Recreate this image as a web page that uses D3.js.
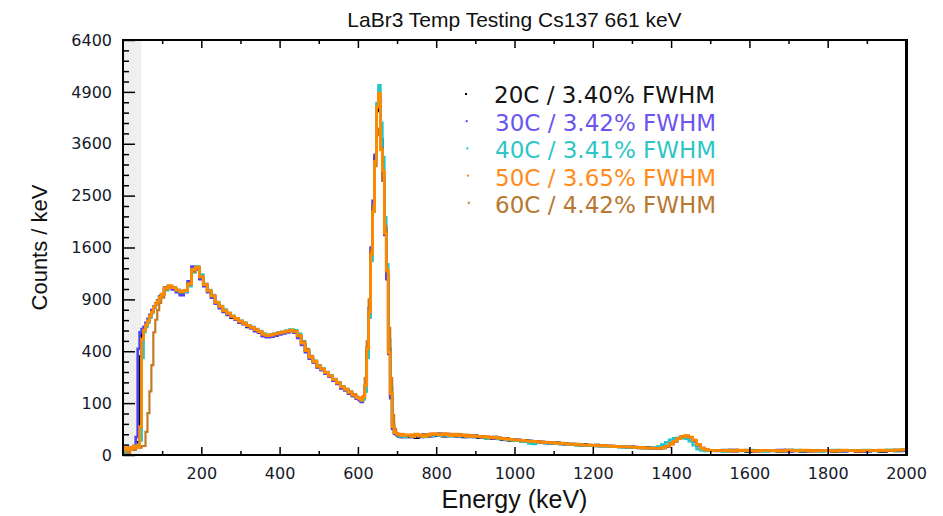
<!DOCTYPE html>
<html>
<head>
<meta charset="utf-8">
<script src="https://cdn.jsdelivr.net/npm/d3@7"></script>
<style>
  html, body { margin: 0; padding: 0; background: #ffffff; }
  svg { display: block; }
</style>
</head>
<body>
<svg id="chart" width="943" height="516"></svg>
<script>
// ---------------- DATA ----------------
const chartTitle = "LaBr3 Temp Testing Cs137 661 keV";
const xAxisTitle = "Energy (keV)";
const yAxisTitle = "Counts / keV";

// energy grid (keV): [start, end, step]
const energySegments = [[0, 100, 5], [110, 600, 10], [605, 720, 5], [730, 1500, 10], [1520, 2000, 20]];

const seriesNames = ["20C / 3.40% FWHM", "30C / 3.42% FWHM", "40C / 3.41% FWHM", "50C / 3.65% FWHM", "60C / 4.42% FWHM"];

const counts20C = [
  0,0,0,1,1,1,2,3,6,360,540,590,630,670,720,770,810,850,890,930,960,
  1040,1055,1030,1005,970,1000,1095,1285,1300,1165,
  1070,990,935,855,815,765,740,700,690,655,
  645,610,605,575,565,530,522,528,540,548,
  560,562,578,562,518,455,400,348,322,288,
  272,248,232,208,192,168,160,143,132,121,
  116,108,120,170,400,740,1550,2300,3300,4400,4740,3700,2900,1900,1200,420,130,28,18,15,13,14,12,13,
  12,14,11,13,15,13,16,14,
  15,13,16,14,13,15,12,13,14,12,
  11,13,11,10,12,10,9,10,8,9,
  8,7,8,7,6,7,6,5.5,6,5,
  5.5,4.5,5,4,4.5,4,3.5,4,3.5,3.2,
  3.6,3,3.3,2.8,3,2.6,2.8,2.4,2.2,2.5,
  2,2.2,1.8,2,1.6,1.8,1.5,1.8,2.5,4.5,
  7,10,12,13,11,7,3.5,1.5,0.9,0.8,
  0.8,0.6,0.9,0.7,0.5,0.8,0.6,0.7,0.5,0.9,0.6,0.5,0.7,0.6,0.8,0.5,0.6,0.7,0.5,0.6,0.8,0.5,0.7,0.6,0.9
];

const counts30C = [
  0,1,0,1,2,1,3,12,420,560,590,610,650,690,730,780,820,850,890,930,960,
  1030,1050,1020,985,950,985,1120,1320,1280,1150,
  1060,985,920,850,800,760,730,705,680,650,
  635,615,595,570,555,525,515,520,530,540,
  550,560,570,555,510,450,392,345,318,285,
  268,245,228,205,188,165,155,140,128,118,
  112,105,118,175,430,800,1600,2400,3350,4500,4800,3600,2800,1800,1150,380,120,25,17,16,14,12,15,13,
  13,12,14,12,14,16,13,15,
  17,14,13,15,16,13,14,12,13,14,
  12,11,12,11,10,11,10,8.5,9,8,
  8.5,7.5,7,7.5,6.5,6,6.5,6,5,5.5,
  5,5,4.2,4.5,4,3.8,4,3.4,3.6,3.5,
  3,3.2,2.8,3,2.6,2.8,2.4,2.6,2.3,2.1,
  2.3,1.9,2,1.7,1.9,1.5,1.7,2,3,5,
  7.5,10.5,12.5,13.5,10.5,6.5,3,1.3,0.8,0.7,
  0.6,0.9,0.5,0.7,0.8,0.5,0.7,0.6,0.9,0.5,0.7,0.6,0.5,0.8,0.6,0.7,0.5,0.8,0.6,0.5,0.7,0.6,0.8,0.9,0.7
];

const counts40C = [
  0,0,1,0,1,2,1,2,4,8,350,560,610,650,700,750,800,840,880,920,950,
  1010,1050,1045,1010,985,990,1060,1240,1320,1210,
  1090,1010,950,870,825,785,750,720,695,670,
  650,625,610,590,570,545,535,540,548,560,
  565,575,585,578,545,480,415,362,330,298,
  278,256,236,214,196,175,162,148,135,124,
  118,112,116,150,350,700,1400,2200,3200,4600,5080,4100,3300,2100,1350,500,170,35,20,16,15,13,14,12,
  14,13,15,14,12,15,14,16,
  14,16,14,13,15,14,13,14,12,13,
  12,12,10,11,11,9.5,10,9,8.5,8,
  7.5,7,6.5,5,4.5,6,6,5.5,5.5,5,
  4.8,4.5,4.6,4,4.2,3.6,3.8,3.5,3.2,3.4,
  3.1,2.9,3,2.6,2.8,2.5,2.3,2.5,2.1,2.2,
  2,1.8,2,1.6,1.8,2,2.6,4,6,8.5,
  10.5,11,11,10,7,3.5,1.3,0.8,0.6,0.7,
  0.7,0.5,0.8,0.6,0.9,0.7,0.5,0.8,0.6,0.7,0.9,0.6,0.8,0.5,0.7,0.9,0.6,0.8,0.7,0.9,0.6,0.8,1.0,0.9,1.2
];

const counts50C = [
  1,2,1,2,1,2,3,2,3,30,500,580,630,670,720,760,810,850,880,920,960,
  1035,1065,1040,1010,990,1005,1090,1280,1310,1180,
  1080,1000,940,865,820,775,745,715,690,665,
  645,622,605,585,565,540,530,535,545,555,
  562,570,580,568,528,465,405,355,325,292,
  274,252,233,212,193,172,160,146,133,122,
  118,112,125,180,420,760,1500,2200,3200,4500,4860,3460,3000,1830,1270,390,140,30,19,17,15,16,14,15,
  15,13,16,14,13,15,17,16,
  15,17,15,14,16,14,15,13,14,13,
  13,12,12.5,11,11.5,10.5,10,9.5,9,8.5,
  8,8,7.5,7,6.8,6.5,6,6.2,5.6,5.5,
  5,5.2,4.6,4.4,4.2,4.3,3.8,3.6,3.8,3.4,
  3.3,3.1,3.2,2.9,2.8,2.7,2.6,2.5,2.4,2.3,
  2.2,2.1,1.9,1.8,1.7,1.6,1.6,2,2.8,4.5,
  7,10,12.5,14,12,8,4,1.6,1,0.8,
  0.7,0.8,0.6,0.9,0.7,0.6,0.8,0.7,0.6,0.8,0.7,0.9,0.6,0.7,0.8,0.6,0.9,0.7,0.6,0.8,0.7,0.9,0.8,1.0,1.1
];

const counts60C = [
  0,1,1,0,1,1,1,2,2,2,3,3,20,65,150,300,560,680,780,860,920,
  1020,1045,1040,1015,995,1010,1080,1250,1290,1190,
  1085,1005,945,870,820,780,750,718,695,668,
  648,625,608,588,568,545,534,536,544,552,
  560,568,575,565,535,478,418,365,330,298,
  276,255,235,214,195,175,162,150,138,126,
  122,118,130,220,480,900,1550,2300,3100,3800,3950,3500,2800,1950,1250,600,220,60,25,18,16,15,16,14,
  14,15,13,15,16,14,15,17,
  16,15,17,15,14,16,14,15,13,14,
  12.5,13,11.5,12,11,11,10,10,9.5,9,
  8.5,8.2,7.8,7.2,7,6.6,6.4,6,5.8,5.4,
  5.3,4.9,4.8,4.5,4.4,4,4.1,3.7,3.6,3.5,
  3.4,3.3,3,3.1,2.9,2.8,2.7,2.5,2.6,2.3,
  2.3,2.1,2,1.9,1.8,1.7,1.8,2.2,3,4.8,
  7.5,10,12.5,13.5,12,8.5,4.5,2,1.2,0.9,
  0.8,0.7,0.9,0.6,0.8,0.7,0.9,0.6,0.8,0.7,0.6,0.8,0.9,0.7,0.6,0.8,0.7,0.6,0.9,0.7,0.8,0.6,0.9,0.8,1.0
];

const seriesColors = ["#000000", "#4f40f2", "#1fc9c9", "#ff8a00", "#c27a26"];
const legendColors = ["#141414", "#6a55f0", "#2ec6c6", "#ff8c1a", "#b8782e"];
const drawOrder = [0, 1, 2, 4, 3];

const xTickValues = [200, 400, 600, 800, 1000, 1200, 1400, 1600, 1800, 2000];
const yTickValues = [0, 100, 400, 900, 1600, 2500, 3600, 4900, 6400];
const xDomain = [0, 2000];
const yDomain = [0, 6400];
const thresholdKeV = 47; // shaded low-energy band

// ---------------- LAYOUT ----------------
const svg = d3.select("#chart");
const W = 943, H = 516;
const plot = { left: 123, right: 906, top: 40, bottom: 455 };

svg.append("rect").attr("width", W).attr("height", H).attr("fill", "#ffffff");

const x = d3.scaleLinear().domain(xDomain).range([plot.left, plot.right]);
const y = d3.scaleSqrt().domain(yDomain).range([plot.bottom, plot.top]);

const energy = energySegments.flatMap(([a, b, s]) => d3.range(a, b + s / 2, s));
const allSeries = [counts20C, counts30C, counts40C, counts50C, counts60C];

// clip
svg.append("defs").append("clipPath").attr("id", "clip")
  .append("rect").attr("x", plot.left).attr("y", plot.top)
  .attr("width", plot.right - plot.left).attr("height", plot.bottom - plot.top);

// shaded band
svg.append("rect")
  .attr("x", x(0)).attr("y", plot.top)
  .attr("width", x(thresholdKeV) - x(0)).attr("height", plot.bottom - plot.top)
  .attr("fill", "#efefef");

// lines
const line = d3.line()
  .x((d, i) => x(energy[i]))
  .y(d => y(Math.max(0, d)))
  .curve(d3.curveStep);

const strokeWidths = [2.6, 2.6, 2.6, 2.8, 2.2];
const gLines = svg.append("g").attr("clip-path", "url(#clip)");
drawOrder.forEach(k => {
  gLines.append("path")
    .datum(allSeries[k])
    .attr("d", line)
    .attr("fill", "none")
    .attr("stroke", seriesColors[k])
    .attr("stroke-width", strokeWidths[k])
    .attr("stroke-linejoin", "miter");
});

// axes
const xMinor = d3.range(100, 2000, 200);
const ySqrtMinor = d3.range(2, 80, 2).filter(v => v % 10 !== 0).map(v => v * v);
const tickFont = "DejaVu Sans, Verdana, sans-serif";

// bottom axis (ticks inward)
const bottomAxis = d3.axisBottom(x).tickValues(xTickValues).tickSizeInner(-8).tickSizeOuter(0).tickPadding(13).tickFormat(d3.format("d"));
const gB = svg.append("g").attr("transform", `translate(0,${plot.bottom})`).call(bottomAxis);
gB.select(".domain").remove();
gB.selectAll("text").attr("font-family", tickFont).attr("font-size", 16).attr("fill", "#151a2a");
gB.selectAll("line").attr("stroke", "#000").attr("stroke-width", 1.5);
svg.append("g").attr("transform", `translate(0,${plot.bottom})`)
  .call(d3.axisBottom(x).tickValues(xMinor).tickSizeInner(-4).tickSizeOuter(0).tickFormat(""))
  .call(g => g.select(".domain").remove())
  .selectAll("line").attr("stroke", "#000").attr("stroke-width", 1.5);

// top axis ticks
svg.append("g").attr("transform", `translate(0,${plot.top})`)
  .call(d3.axisTop(x).tickValues(xTickValues).tickSizeInner(-8).tickSizeOuter(0).tickFormat(""))
  .call(g => g.select(".domain").remove())
  .selectAll("line").attr("stroke", "#000").attr("stroke-width", 1.5);
svg.append("g").attr("transform", `translate(0,${plot.top})`)
  .call(d3.axisTop(x).tickValues(xMinor).tickSizeInner(-4).tickSizeOuter(0).tickFormat(""))
  .call(g => g.select(".domain").remove())
  .selectAll("line").attr("stroke", "#000").attr("stroke-width", 1.5);

// left axis
const leftAxis = d3.axisLeft(y).tickValues(yTickValues).tickSizeInner(-12).tickSizeOuter(0).tickPadding(11).tickFormat(d3.format("d"));
const gL = svg.append("g").attr("transform", `translate(${plot.left},0)`).call(leftAxis);
gL.select(".domain").remove();
gL.selectAll("text").attr("font-family", tickFont).attr("font-size", 16).attr("fill", "#151a2a");
gL.selectAll("line").attr("stroke", "#000").attr("stroke-width", 1.5);
svg.append("g").attr("transform", `translate(${plot.left},0)`)
  .call(d3.axisLeft(y).tickValues(ySqrtMinor).tickSizeInner(-6).tickSizeOuter(0).tickFormat(""))
  .call(g => g.select(".domain").remove())
  .selectAll("line").attr("stroke", "#000").attr("stroke-width", 1.5);

// frame
svg.append("rect")
  .attr("x", plot.left).attr("y", plot.top)
  .attr("width", plot.right - plot.left).attr("height", plot.bottom - plot.top)
  .attr("fill", "none").attr("stroke", "#000").attr("stroke-width", 2);
svg.append("line")
  .attr("x1", plot.right + 1).attr("x2", plot.right + 1)
  .attr("y1", plot.top - 1).attr("y2", plot.bottom + 1)
  .attr("stroke", "#000").attr("stroke-width", 2);

// titles
svg.append("text")
  .attr("x", (plot.left + plot.right) / 2).attr("y", 27)
  .attr("text-anchor", "middle")
  .attr("font-family", "Liberation Sans, Arial, sans-serif").attr("font-size", 21)
  .attr("fill", "#111").text(chartTitle);

svg.append("text")
  .attr("x", (plot.left + plot.right) / 2).attr("y", 508)
  .attr("text-anchor", "middle")
  .attr("font-family", "Liberation Sans, Arial, sans-serif").attr("font-size", 25)
  .attr("fill", "#111").text(xAxisTitle);

svg.append("text")
  .attr("transform", `translate(47,${(plot.top + plot.bottom) / 2}) rotate(-90)`)
  .attr("text-anchor", "middle")
  .attr("font-family", "Liberation Sans, Arial, sans-serif").attr("font-size", 22)
  .attr("fill", "#111").text(yAxisTitle);

// legend
const legendX = 494, legendY0 = 103, legendDy = 27.5;
const gLeg = svg.append("g");
seriesNames.forEach((name, i) => {
  const yy = legendY0 + i * legendDy;
  gLeg.append("rect")
    .attr("x", 465 + i * 0.7).attr("y", yy - 10 - i * 0.3)
    .attr("width", 2).attr("height", 2)
    .attr("fill", seriesColors[i]);
  gLeg.append("text")
    .attr("x", legendX + (i > 0 ? 1 : 0)).attr("y", yy)
    .attr("font-family", "DejaVu Sans, Verdana, sans-serif").attr("font-size", 23)
    .attr("fill", legendColors[i])
    .text(name);
});
</script>
</body>
</html>
